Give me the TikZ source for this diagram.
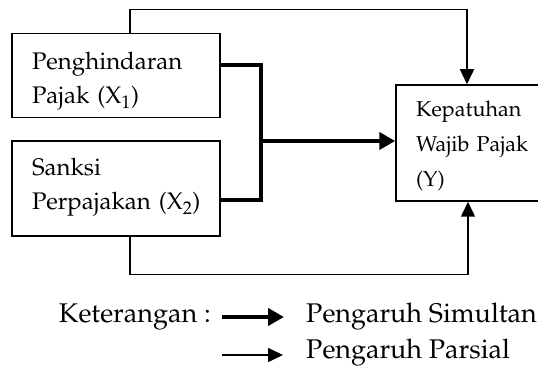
\documentclass[tikz,border=0pt]{standalone}
\usepackage[T1]{fontenc}
\usepackage{mathpazo}
\usetikzlibrary{arrows.meta}
\usetikzlibrary{positioning}

\begin{document}
\begin{tikzpicture}[x=1pt, y=-1pt,
    box/.style={draw, line width=1.5pt, rectangle, align=left, inner sep=0pt, text height=30pt},
    partial/.style={line width=1.5pt, -{Triangle[length=15pt, width=14pt]}},
    simul/.style={line width=4pt, -{Triangle[length=16pt, width=17pt]}},
    legend/.style={inner sep=0pt, font=\fontsize{27}{30}\selectfont},
    every node/.style={font=\fontsize{24}{34}\selectfont}]
            \useasboundingbox (0,0) rectangle (538,371);
            \node[box, minimum width=208pt, minimum height=84pt, text width=168pt, text depth=41pt] (X1) at (116,75.5) {Penghindaran\\\mbox{Pajak (X\textsubscript{1})}};
            \node[box, minimum width=208pt, minimum height=95pt, text width=168pt, text depth=55pt] (X2) at (116,188.5) {Sanksi\\\mbox{Perpajakan (X\textsubscript{2})}};
            \node[box, minimum width=150pt, minimum height=116pt, text width=110pt, text depth=82pt, font=\fontsize{21.5}{35}\selectfont] (Y) at (471,143) {Kepatuhan\\\mbox{Wajib Pajak}\\(Y)};
            \coordinate (J) at (261,141);
            \draw[line width=4pt] ([yshift=10.5pt]X1.east) -| (J) |- ([yshift=-11.5pt]X2.east);
            \draw[simul] (J) -- (Y.west |- J);
            \draw[partial] ([xshift=14pt]X1.north) -- ++(0,-23) -| ([xshift=-4pt]Y.north);
            \draw[partial] ([xshift=14pt]X2.south) -- ++(0,38) -| ([xshift=-3pt]Y.south);
            % keterangan
            \node[legend, anchor=base east] (ket) at (211,322) {Keterangan :};
            \coordinate (s1) at (222,317);
            \coordinate (s2) at (284,317);
            \coordinate (p1) at (222,355);
            \coordinate (p2) at (283,355);
            \draw[simul] (s1) -- (s2);
            \draw[partial] (p1) -- (p2);
            \node[legend, anchor=base west] (sim) at (306,322) {Pengaruh Simultan};
            \node[legend, anchor=base west] (par) at (306,358) {Pengaruh Parsial};
        \end{tikzpicture}
\end{document}
